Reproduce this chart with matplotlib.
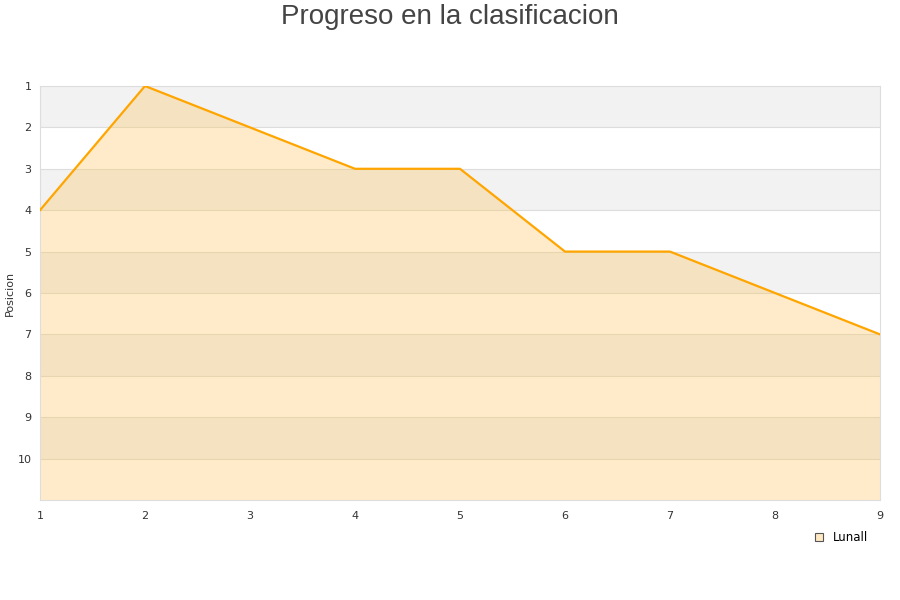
import matplotlib
matplotlib.use("Agg")
import matplotlib.pyplot as plt
from matplotlib.patches import Patch

jornadas = [1, 2, 3, 4, 5, 6, 7, 8, 9]
posiciones = [4, 1, 2, 3, 3, 5, 5, 6, 7]
equipo = "Lunall"
y_ticks = [1, 2, 3, 4, 5, 6, 7, 8, 9, 10]

fig = plt.figure(figsize=(9, 6), dpi=100)
ax = fig.add_axes([40 / 900, 100 / 600, 840 / 900, 414 / 600])

ax.set_xlim(1, 9)
ax.set_ylim(11, 1)

# alternating background bands
for y0 in range(1, 11, 2):
    ax.axhspan(y0, y0 + 1, color="#f2f2f2", zorder=0, lw=0)
for y in range(2, 11):
    ax.axhline(y, color="#dddddd", lw=0.8, zorder=1)

ax.fill_between(jornadas, posiciones, 11, color="#ffc04d", alpha=0.3, lw=0, zorder=2)
ax.plot(jornadas, posiciones, color="#ffa500", lw=1.6, zorder=3)

ax.set_xticks(jornadas)
ax.set_yticks(y_ticks)
ax.tick_params(axis="both", length=0, labelsize=8, colors="#333333")
ax.tick_params(axis="x", pad=8)
ax.tick_params(axis="y", pad=6)
for side in ["top", "right", "bottom", "left"]:
    ax.spines[side].set_color("#dddddd")
ax.set_ylabel("Posicion", fontsize=8, color="#333333")
ax.yaxis.set_label_coords(-25 / 840, 0.5)

fig.text(0.5, 0.972, "Progreso en la clasificacion", ha="center", va="center",
         fontsize=20, color="#444444", family="Liberation Sans")

handle = Patch(facecolor="#ffe9c4", edgecolor="#555555", lw=0.8)
fig.legend([handle], [equipo], loc="center left", bbox_to_anchor=(0.894, 0.104),
           frameon=False, fontsize=8.5, handlelength=0.7, handleheight=0.7,
           handletextpad=0.8)

fig.savefig("out.png", dpi=100)
